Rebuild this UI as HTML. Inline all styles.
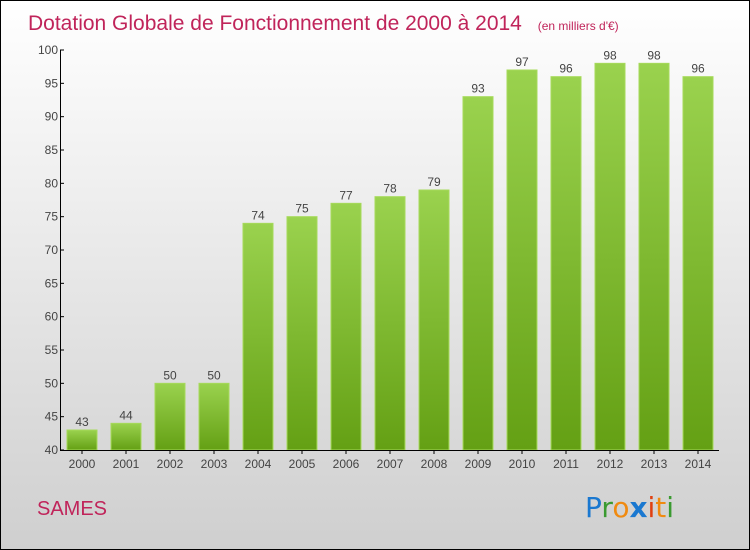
<!DOCTYPE html>
<html><head><meta charset="utf-8"><style>
body{margin:0}
#c{width:748px;height:548px;border:1px solid #000;background:linear-gradient(#fff,#cfcfcf);position:relative;font-family:"Liberation Sans",sans-serif;overflow:hidden}
</style></head><body>
<div id="c">
<svg id="s" width="748" height="548">
<defs><linearGradient id="g" x1="0" y1="0" x2="0" y2="1"><stop offset="0" stop-color="#9ad24e"/><stop offset="1" stop-color="#64a014"/></linearGradient></defs>
<text x="27" y="29" font-size="21" fill="#c0245a">Dotation Globale de Fonctionnement de 2000 à 2014 <tspan font-size="12" dx="10">(en milliers d'€)</tspan></text>
<text x="36" y="514" font-size="20" fill="#c0245a">SAMES</text>
<g font-size="28" font-family="'DejaVu Sans',sans-serif">
<text x="584" y="516"><tspan fill="#1a78d0">P</tspan><tspan fill="#3a9a30">r</tspan><tspan fill="#f08a10">o</tspan><tspan fill="#1a78d0" font-weight="bold">x</tspan><tspan fill="#e04010">i</tspan><tspan fill="#f08a10">t</tspan><tspan fill="#3a9a30">i</tspan></text></g>
</svg></div>
<script>
const years=["2000","2001","2002","2003","2004","2005","2006","2007","2008","2009","2010","2011","2012","2013","2014"];
const values=[43,44,50,50,74,75,77,78,79,93,97,96,98,98,96];
const ticks=[40,45,50,55,60,65,70,75,80,85,90,95,100];
const s=document.getElementById('s');const NS='http://www.w3.org/2000/svg';
const y=v=>449-(v-40)*400/60;const x=i=>66+i*44;
function mk(t,a,p){const e=document.createElementNS(NS,t);for(const k in a)e.setAttribute(k,a[k]);(p||s).appendChild(e);return e;}
values.forEach((v,i)=>{
const r=mk('rect',{x:x(i),y:y(v),width:30,height:y(40)-y(v),fill:'url(#g)',stroke:'#a6da5a','stroke-width':1});


const t=mk('text',{x:x(i)+15,y:y(v)-4,'text-anchor':'middle','font-size':12,fill:'#444'});t.textContent=v;


const l=mk('text',{x:x(i)+15,y:467,'text-anchor':'middle','font-size':12,fill:'#444'});l.textContent=years[i];


mk('line',{x1:x(i)+15,x2:x(i)+15,y1:449,y2:453,stroke:'#000'});
});
ticks.forEach(v=>{
mk('line',{x1:59,x2:63,y1:y(v),y2:y(v),stroke:'#000'});
const t=mk('text',{x:57,y:y(v)+4,'text-anchor':'end','font-size':12,fill:'#444'});t.textContent=v;


});
const ya=mk('line',{x1:59.5,x2:59.5,y1:y(100),y2:449.5,stroke:'#000'});


const xa=mk('line',{x1:59,x2:718,y1:449.5,y2:449.5,stroke:'#000'});


</script>
</body></html>
